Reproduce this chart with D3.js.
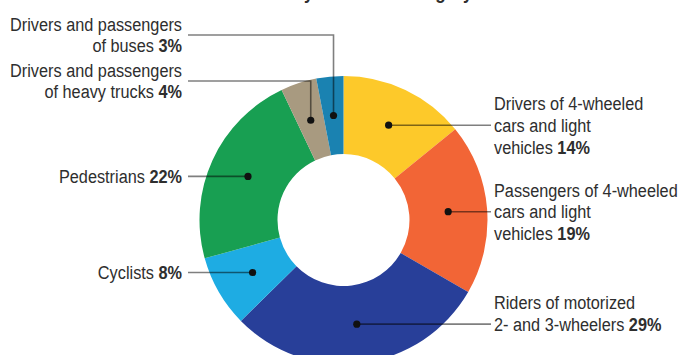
<!DOCTYPE html>
<html>
<head>
<meta charset="utf-8">
<script src="https://cdn.jsdelivr.net/npm/d3@7"></script>
<style>
  html, body { margin: 0; padding: 0; background: #fff; }
  svg { display: block; }
  text { font-family: "Liberation Sans", Arial, "DejaVu Sans", sans-serif; fill: #2e2e2e; }
</style>
</head>
<body>
<svg id="chart" width="683" height="355"></svg>
<script>
const title = "Fatalities by road user category";
const categories = [
  "Drivers of 4-wheeled cars and light vehicles",
  "Passengers of 4-wheeled cars and light vehicles",
  "Riders of motorized 2- and 3-wheelers",
  "Cyclists",
  "Pedestrians",
  "Drivers and passengers of heavy trucks",
  "Drivers and passengers of buses"
];
const values = [14, 19, 29, 8, 22, 4, 3];
const labelLines = [
  ["Drivers of 4-wheeled", "cars and light", "vehicles"],
  ["Passengers of 4-wheeled", "cars and light", "vehicles"],
  ["Riders of motorized", "2- and 3-wheelers"],
  ["Cyclists"],
  ["Pedestrians"],
  ["Drivers and passengers", "of heavy trucks"],
  ["Drivers and passengers", "of buses"]
];
const colors = ["#FDC92A", "#F26536", "#283F99", "#1EACE3", "#189F52", "#A89A80", "#1A82B1"];

const svg = d3.select("#chart");
const cx = 343.5, cy = 220, rOuter = 144, rInner = 66;
const lineH = 21.7;
const fontSize = 19;

// calibrate a condensed look: scale Liberation Sans horizontally
const probe = svg.append("text").style("font-size", fontSize + "px").text("Drivers and passengers");
const sx = 172 / probe.node().getComputedTextLength();
probe.remove();

const titleG = svg.append("g").attr("transform", `translate(${cx},-1.5) scale(${sx},1)`);
titleG.append("text")
  .attr("x", 0).attr("y", 0)
  .attr("text-anchor", "middle")
  .style("font-weight", "bold").style("font-size", "20px")
  .text(title);

const pie = d3.pie().value(d => d).sort(null);
const arcs = pie(values);
const arc = d3.arc().innerRadius(rInner).outerRadius(rOuter);
const g = svg.append("g").attr("transform", `translate(${cx},${cy})`);
g.selectAll("path").data(arcs).join("path")
  .attr("d", arc)
  .attr("fill", (d, i) => colors[i]);

const layout = [
  { side: "right", anchorLine: 1 },
  { side: "right", anchorLine: 1 },
  { side: "right", anchorLine: 1 },
  { side: "left", anchorLine: 0 },
  { side: "left", anchorLine: 0 },
  { side: "left", elbowY: 81 },
  { side: "left", elbowY: 35 }
];
const rightX = 494, leftX = 182;
const leaders = svg.append("g");
const dots = svg.append("g");
const labels = svg.append("g");

arcs.forEach((a, i) => {
  const [px, py] = arc.centroid(a);
  const dx = cx + px, dy = cy + py;
  const L = layout[i];
  let textX, firstY;
  if (L.side === "right") {
    leaders.append("line").attr("x1", dx).attr("y1", dy).attr("x2", rightX - 3).attr("y2", dy);
    textX = rightX;
    firstY = dy - L.anchorLine * lineH;
  } else if (L.elbowY === undefined) {
    leaders.append("line").attr("x1", dx).attr("y1", dy).attr("x2", leftX + 6).attr("y2", dy);
    textX = leftX;
    firstY = dy - L.anchorLine * lineH;
  } else {
    leaders.append("polyline").attr("points", `${dx},${dy} ${dx},${L.elbowY} ${leftX + 6},${L.elbowY}`);
    textX = leftX;
    firstY = L.elbowY - lineH / 2;
  }
  dots.append("circle").attr("cx", dx).attr("cy", dy).attr("r", 3.6).attr("fill", "#111");
  const lines = labelLines[i];
  const lg = labels.append("g").attr("transform", `translate(${textX},0) scale(${sx},1)`);
  const t = lg.append("text")
    .attr("text-anchor", L.side === "right" ? "start" : "end")
    .style("font-size", fontSize + "px");
  lines.forEach((ln, j) => {
    t.append("tspan").attr("x", 0).attr("y", firstY + j * lineH).attr("dy", "0.35em").text(ln);
    if (j === lines.length - 1) {
      t.append("tspan").text("\u00a0");
      t.append("tspan").style("font-weight", "bold").text(values[i] + "%");
    }
  });
});
leaders.selectAll("line, polyline")
  .attr("fill", "none").attr("stroke", "#000").attr("stroke-opacity", 0.5).attr("stroke-width", 1.6);
</script>
</body>
</html>
